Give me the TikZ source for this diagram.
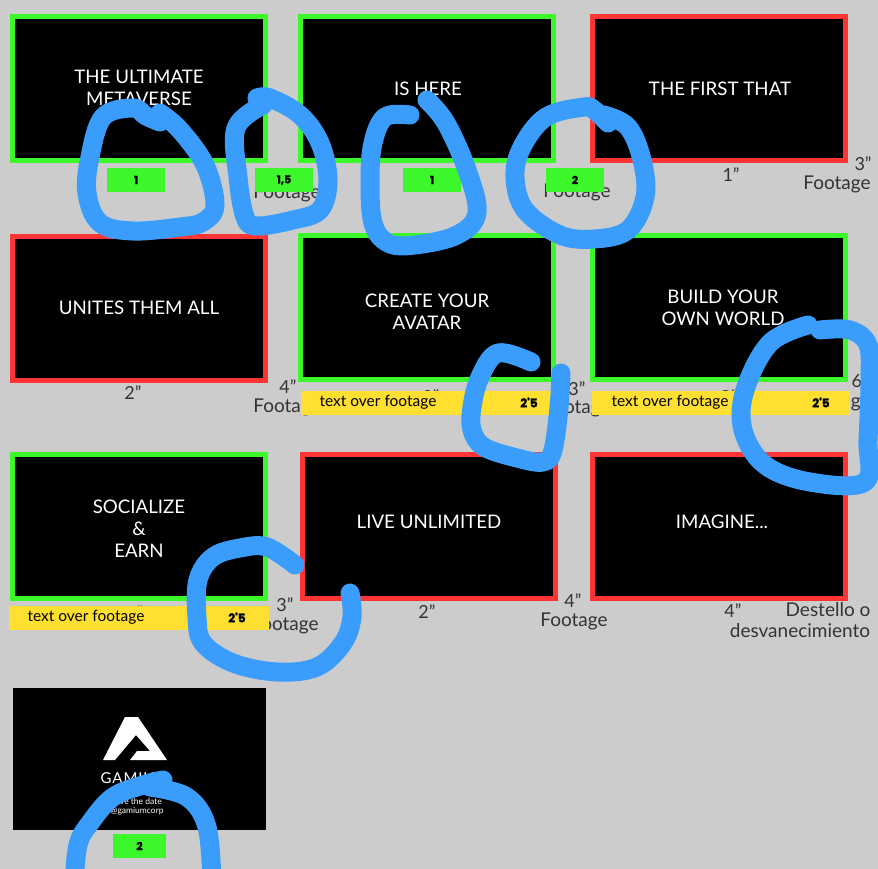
\documentclass[tikz,border=0pt]{standalone}
\usepackage{fontspec}
\setmainfont[Ligatures=ResetAll]{Lato}
\newfontfamily\numfont[BoldFeatures={FakeBold=1.5}]{Poppins}
\definecolor{bggrey}{HTML}{CCCCCC}
\definecolor{okgreen}{HTML}{3CF82A}
\definecolor{nored}{HTML}{FF3535}
\definecolor{tagyellow}{HTML}{FFE030}
\definecolor{penblue}{HTML}{3A9DFC}
\definecolor{inkgrey}{HTML}{333333}
\tikzset{
 frame/.style={fill=black,line width=5pt,minimum width=253pt,minimum height=144pt,inner sep=0pt,anchor=north west},
 gframe/.style={frame,draw=okgreen},
 rframe/.style={frame,draw=nored},
 title/.style={text=white,font=\fontsize{18.7}{22}\selectfont,align=center,inner sep=0pt},
 dur/.style={text=inkgrey,font=\fontsize{18}{20}\selectfont,inner sep=0pt},
 note/.style={text=inkgrey,font=\fontsize{19}{21}\selectfont,align=center,inner sep=0pt},
 gtag/.style={fill=okgreen,minimum height=24pt,minimum width=58pt,inner sep=0pt,font=\numfont\bfseries\fontsize{11}{12}\selectfont,text=black},
 ytag/.style={fill=tagyellow,minimum height=24pt,inner sep=0pt},
 ytext/.style={text=black,font=\fontsize{15.5}{16}\selectfont,inner sep=0pt},
 ynum/.style={text=black,font=\numfont\bfseries\fontsize{12}{12}\selectfont,inner sep=0pt},
 pen/.style={draw=penblue,line width=19pt,line cap=round,line join=round}
}
\begin{document}
\begin{tikzpicture}[x=1pt,y=-1pt]
\useasboundingbox (0,0) rectangle (878,869);
\clip (0,0) rectangle (878,869);
\fill[bggrey] (0,0) rectangle (878,869);
% frames
\node[gframe] (f1) at (10,14) {};
\node[gframe] (f2) at (298,14) {};
\node[rframe] (f3) at (590,14) {};
\node[rframe] (f4) at (10,234) {};
\node[gframe] (f5) at (298,233) {};
\node[gframe] (f6) at (590,233) {};
\node[gframe] (f7) at (10,452) {};
\node[rframe] (f8) at (300,452) {};
\node[rframe] (f9) at (590,452) {};
\node[fill=black,minimum width=253pt,minimum height=142pt,inner sep=0pt,anchor=north west] (f10) at (13,688) {};
% titles
\node[title] (t1) at (139,88) {THE ULTIMATE\\METAVERSE};
\node[title] (t2) at (428,89) {IS HERE};
\node[title] (t3) at (720,89) {THE FIRST THAT};
\node[title] (t4) at (139,308) {UNITES THEM ALL};
\node[title] (t5) at (427,312) {CREATE YOUR\\AVATAR};
\node[title] (t6) at (723,308) {BUILD YOUR\\OWN WORLD};
\node[title] (t7) at (139,528.5) {SOCIALIZE\\\&\\EARN};
\node[title] (t8) at (429,522) {LIVE UNLIMITED};
\node[title] (t9) at (722,522) {IMAGINE...};
% logo
\fill[white] (125,717) -- (138,717) -- (167,760) -- (130,760) -- (137,751) -- (150,751) -- (136,735) -- (115,760) -- (103,760) -- cycle;
\node[text=white,font=\fontsize{15}{16}\selectfont\addfontfeature{LetterSpace=6},inner sep=0pt] (l1) at (135,778) {GAMIUM};
\node[text=white,font=\fontsize{8.5}{9}\selectfont,inner sep=0pt] (l2) at (137,801) {save the date};
\node[text=white,font=\fontsize{8.5}{9}\selectfont,inner sep=0pt] (l3) at (137,811) {@gamiumcorp};
% durations and notes
\node[dur] (d1) at (135,176) {1"};
\node[dur] (d2) at (290,176) {3"};
\node[note] (n2) at (287,193) {Footage};
\node[dur] (d3) at (431,176) {1"};
\node[dur] (d4) at (576,176) {4"};
\node[note] (n4) at (577,192) {Footage};
\node[dur] (d5) at (731,175) {1"};
\node[dur] (d6) at (863,164) {3"};
\node[note] (n6) at (837,184) {Footage};
\node[dur] (d7) at (133,393) {2"};
\node[dur] (d8) at (288,387) {4"};
\node[note] (n8) at (287,407) {Footage};
\node[dur] (d9) at (431,397) {2"};
\node[dur] (d10) at (577,389) {3"};
\node[note] (n10) at (577,408) {Footage};
\node[dur] (d11) at (729,397) {3"};
\node[dur] (d12) at (860,381) {6"};
\node[note] (n12) at (837,402) {Footage};
\node[dur] (d13) at (135,613) {2"};
\node[dur] (d14) at (285,605) {3"};
\node[note] (n14) at (285,625) {Footage};
\node[dur] (d15) at (427,612) {2"};
\node[dur] (d16) at (573,601) {4"};
\node[note] (n16) at (574,621) {Footage};
\node[dur] (d17) at (733,611) {4"};
\node[note] (n17) at (828,610) {Destello o};
\node[note] (n18) at (800,631) {desvanecimiento};
% tags
\node[gtag] (g1) at (136,180) {1};
\node[gtag] (g2) at (284,180) {1,5};
\node[gtag] (g3) at (432,180) {1};
\node[gtag] (g4) at (575,180) {2};
\node[gtag,minimum width=53pt] (g5) at (139.5,846) {2};
\node[ytag,minimum width=256pt] (y1) at (428.5,402.5) {};
\node[ytag,minimum width=258pt] (y2) at (721,402.5) {};
\node[ytag,minimum width=260pt] (y3) at (139,617.5) {};
\node[ytext] (yt1) at (378,402) {text over footage};
\node[ytext] (yt2) at (670,402) {text over footage};
\node[ytext] (yt3) at (86,617) {text over footage};
\node[ynum] (yn1) at (529,402.5) {2'5};
\node[ynum] (yn2) at (821,402.5) {2'5};
\node[ynum] (yn3) at (237,617.5) {2'5};
% pen marks
\draw[pen] plot[smooth,tension=0.6] coordinates {(160,122) (146,116) (133,108) (103,117) (90,157) (87,193) (100,223) (133,231) (180,227) (203,222) (215,205) (205,165) (180,130) (160,113)};
\draw[pen] plot[smooth,tension=0.6] coordinates {(257,98) (270,98) (300,115) (320,143) (328,180) (320,210) (293,220) (257,226) (245,217) (238,177) (236,128) (263,105)};
\draw[pen] plot[smooth,tension=0.6] coordinates {(410,115) (385,117) (373,143) (370,180) (373,223) (388,243) (415,245) (457,235) (477,213) (467,170) (446,123) (427,100)};
\draw[pen] plot[smooth,tension=0.6] coordinates {(608,123) (594,110) (584,107) (546,117) (522,147) (515,177) (525,210) (560,235) (594,239) (628,230) (645,197) (642,160) (628,127) (604,115)};
\draw[pen] plot[smooth,tension=0.6] coordinates {(531,362) (498,353) (480,377) (472,407) (472,430) (484,447) (517,458) (543,462) (553,450) (559,407) (561,373)};
\draw[pen] plot[smooth,tension=0.6] coordinates {(808,325) (770,343) (745,390) (743,430) (765,465) (810,482) (865,482) (868,440) (870,380) (868,345) (850,330) (820,330)};
\draw[pen] plot[smooth,tension=0.6] coordinates {(295,565) (267,547) (240,548) (213,557) (198,580) (197,617) (203,643) (233,663) (277,672) (317,667) (343,643) (352,617) (350,593)};
\draw[pen] plot[smooth,tension=0.6] coordinates {(74,885) (78,845) (90,823) (113,797) (143,785) (163,780)};
\draw[pen] plot[smooth,tension=0.6] coordinates {(150,787) (187,797) (207,827) (212,885)};
\end{tikzpicture}
\end{document}
